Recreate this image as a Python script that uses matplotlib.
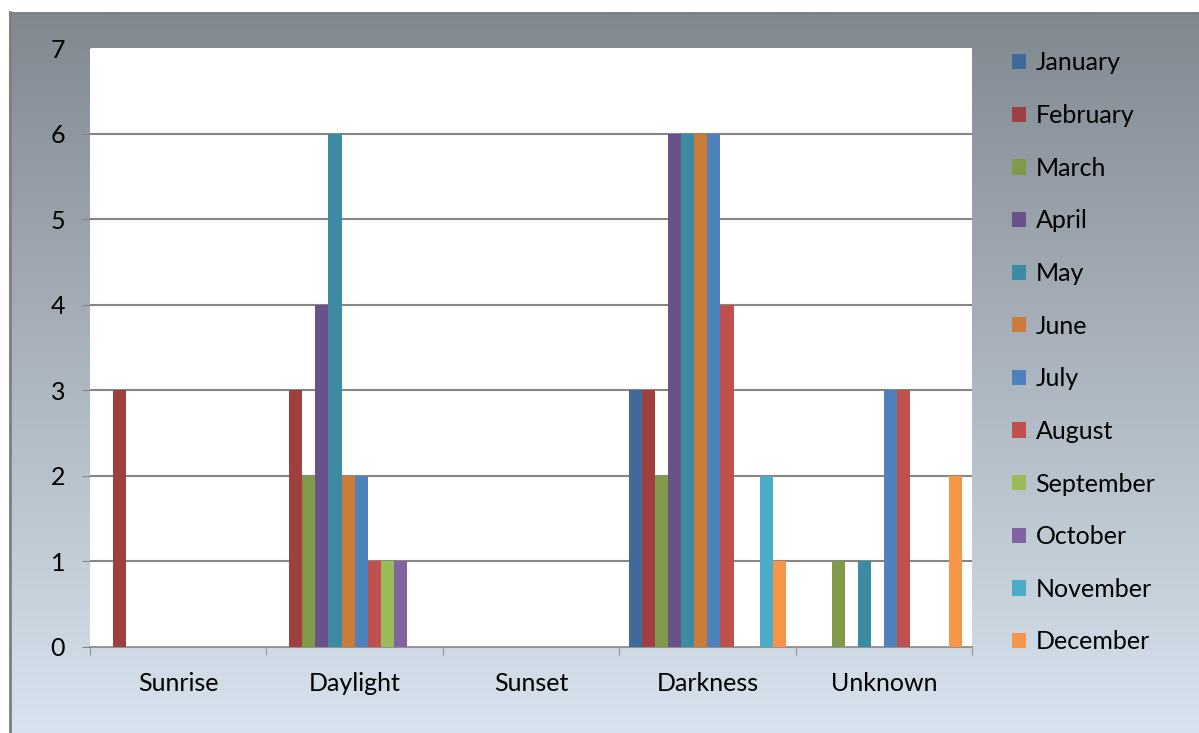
import numpy as np
import matplotlib.pyplot as plt
from matplotlib.patches import Patch
from matplotlib.lines import Line2D

plt.rcParams['font.family'] = ['Lato', 'DejaVu Sans']

categories = ['Sunrise', 'Daylight', 'Sunset', 'Darkness', 'Unknown']
months = ['January', 'February', 'March', 'April', 'May', 'June',
          'July', 'August', 'September', 'October', 'November', 'December']

# counts per month, in order of categories
january = [0, 0, 0, 3, 0]
february = [3, 3, 0, 3, 0]
march = [0, 2, 0, 2, 1]
april = [0, 4, 0, 6, 0]
may = [0, 6, 0, 6, 1]
june = [0, 2, 0, 6, 0]
july = [0, 2, 0, 6, 3]
august = [0, 1, 0, 4, 3]
september = [0, 1, 0, 0, 0]
october = [0, 1, 0, 0, 0]
november = [0, 0, 0, 2, 0]
december = [0, 0, 0, 1, 2]
series = [january, february, march, april, may, june,
          july, august, september, october, november, december]

colors = ['#416a9c', '#9e4040', '#819a4a', '#69528a', '#3c8ba3', '#cc7b38',
          '#4f81bd', '#c0504d', '#9bbb59', '#8064a2', '#4bacc6', '#f79646']

W, H = 1199, 733
fig = plt.figure(figsize=(W / 100, H / 100), dpi=100)
fig.patch.set_facecolor('white')

# gradient chart background
bg = fig.add_axes([9 / W, 0, 1 - 9 / W, 1 - 12 / H])
grad = np.linspace(0, 1, 256).reshape(-1, 1)
top = np.array([0x80, 0x88, 0x90]) / 255
bot = np.array([0xd8, 0xe3, 0xef]) / 255
img = top + grad[..., None] * (bot - top)
bg.imshow(img, aspect='auto', extent=[0, 1, 0, 1], origin='upper')
bg.set_axis_off()
fig.add_artist(Line2D([9.5 / W, 9.5 / W], [0, 1 - 12 / H], color='#7f7f7f', lw=2))
fig.add_artist(Line2D([9 / W, 1], [1 - 12.5 / H, 1 - 12.5 / H], color='#7f7f7f', lw=1))

ax = fig.add_axes([90 / W, 1 - 647 / H, (972 - 90) / W, (647 - 48) / H])
ax.set_facecolor('white')

n = len(series)
bw = 1 / (n + 1.5)
x = np.arange(len(categories))
for i, (vals, c, m) in enumerate(zip(series, colors, months)):
    ax.bar(x - 0.5 + 0.75 * bw + i * bw + bw / 2, vals, width=bw, color=c,
           label=m, zorder=3)

ax.set_xlim(-0.5, len(categories) - 0.5)
ax.set_ylim(0, 7)
ax.set_yticks(range(8))
ax.tick_params(axis='y', length=6, color='#868686', labelsize=18, pad=12)
for y in range(1, 7):
    ax.axhline(y, color='#868686', lw=1.5, zorder=1)

ax.set_xticks(x)
ax.set_xticklabels(categories, fontsize=18)
ax.tick_params(axis='x', length=0, pad=18)
ax.set_xticks(np.arange(-0.5, len(categories)), minor=True)
ax.tick_params(axis='x', which='minor', length=6, color='#868686')

for s in ['top', 'right', 'left']:
    ax.spines[s].set_visible(False)
ax.spines['bottom'].set_color('#868686')
ax.spines['bottom'].set_linewidth(1.2)

handles = [Patch(facecolor=c, label=m) for c, m in zip(colors, months)]
fig.legend(handles=handles, loc='upper left', bbox_to_anchor=(989 / W, 1 - 29 / H),
           frameon=False, fontsize=18, handlelength=0.56, handleheight=0.56,
           handletextpad=0.4, labelspacing=1.185)

fig.savefig('out.png', dpi=100)
